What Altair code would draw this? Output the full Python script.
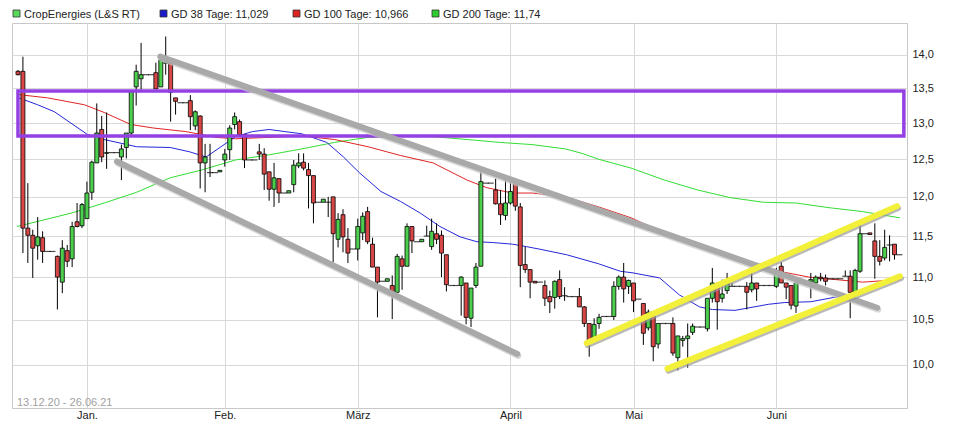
import altair as alt
import pandas as pd

# ---------------- data ----------------
opens = [13.75, 13.75, 11.60, 11.51, 11.38, 11.48, 11.31, 11.31, 11.25, 10.94,
         11.32, 11.22, 11.68, 11.63, 11.72, 12.06, 12.45, 12.91, 12.58, 12.59,
         12.59, 12.53, 12.66, 12.86, 13.52, 13.64, 13.70, 13.70, 13.73, 13.52,
         13.87, 13.88, 13.36, 13.29, 13.29, 13.32, 12.96, 13.10, 12.45, 12.32,
         12.32, 12.33, 12.49, 12.63, 12.98, 13.02, 12.84, 12.49, 12.49, 12.60,
         12.57, 12.33, 12.10, 12.24, 12.05, 12.05, 12.16, 12.41, 12.46, 12.36,
         12.28, 11.93, 11.93, 11.93, 12.00, 11.46, 11.77, 11.46, 11.34, 11.34,
         11.54, 11.81, 11.40, 11.12, 10.95, 10.95, 10.90, 10.82, 11.22, 11.13,
         11.62, 11.43, 11.43, 11.50, 11.37, 11.53, 11.51, 11.27, 10.90, 10.90,
         10.90, 10.93, 10.52, 10.90, 11.13, 12.18, 12.18, 12.09, 11.91, 11.76,
         11.92, 12.17, 11.87, 11.15, 11.09, 10.95, 10.94, 10.90, 10.77, 10.76,
         10.97, 10.78, 10.77, 10.77, 10.77, 10.65, 10.46, 10.27, 10.46, 10.54,
         10.54, 10.54, 10.89, 11.00, 10.89, 10.93, 10.74, 10.69, 10.41, 10.59,
         10.23, 10.46, 10.46, 10.46, 10.08, 10.27, 10.29, 10.36, 10.42, 10.42,
         10.40, 10.75, 10.88, 10.75, 10.84, 10.89, 10.89, 10.89, 10.89, 10.85,
         10.93, 10.90, 10.90, 10.90, 10.89, 11.13, 10.93, 10.90, 10.66, 10.93,
         10.93, 10.95, 10.93, 11.00, 10.99, 10.98, 10.98, 10.98, 11.01, 11.01,
         10.82, 11.07, 11.53, 11.54, 11.44, 11.25, 11.23, 11.39, 11.40, 11.27]
highs = [13.77, 13.97, 12.18, 11.58, 11.74, 11.56, 11.31, 11.31, 11.26, 11.45,
         11.39, 11.68, 11.92, 11.92, 12.20, 12.48, 13.28, 13.10, 13.15, 12.59,
         12.59, 12.70, 12.86, 13.45, 13.85, 14.18, 13.70, 13.70, 13.88, 14.00,
         14.28, 13.88, 13.36, 13.29, 13.29, 13.40, 13.18, 13.11, 12.71, 12.71,
         12.32, 12.35, 12.64, 12.97, 13.15, 13.05, 12.84, 12.49, 12.49, 12.71,
         12.65, 12.33, 12.45, 12.24, 12.05, 12.08, 12.49, 12.58, 12.58, 12.45,
         12.28, 11.93, 11.97, 12.00, 12.00, 11.79, 11.84, 11.60, 11.34, 11.72,
         11.80, 11.87, 11.48, 11.12, 10.95, 10.98, 11.02, 11.28, 11.26, 11.66,
         11.62, 11.43, 11.46, 11.63, 11.72, 11.66, 11.57, 11.27, 10.90, 10.90,
         11.01, 10.93, 10.87, 11.17, 12.34, 12.18, 12.18, 12.24, 12.09, 12.24,
         12.24, 12.20, 11.92, 11.37, 11.09, 10.95, 10.94, 10.96, 10.84, 10.96,
         11.08, 10.88, 10.77, 10.77, 10.87, 10.66, 10.46, 10.52, 10.57, 10.54,
         10.54, 10.95, 11.02, 11.17, 10.97, 10.93, 10.74, 10.69, 10.62, 10.59,
         10.46, 10.46, 10.46, 10.53, 10.32, 10.32, 10.46, 10.46, 10.42, 10.42,
         10.75, 11.11, 10.94, 10.97, 11.05, 10.93, 10.89, 10.89, 10.94, 11.05,
         10.93, 10.90, 10.90, 10.90, 11.11, 11.18, 10.93, 10.90, 10.93, 10.93,
         10.93, 11.05, 11.02, 11.05, 11.03, 10.98, 10.98, 10.98, 11.08, 11.08,
         11.10, 11.65, 11.53, 11.54, 11.66, 11.45, 11.58, 11.51, 11.40, 11.27]
lows = [13.69, 11.29, 11.17, 10.99, 11.21, 11.17, 11.31, 11.31, 10.62, 10.81,
        11.12, 11.12, 11.61, 11.60, 11.72, 11.96, 12.45, 12.46, 12.37, 12.59,
        12.59, 12.22, 12.51, 12.81, 13.25, 13.48, 13.70, 13.70, 13.49, 13.52,
        13.70, 13.02, 13.12, 13.29, 13.29, 12.90, 12.90, 12.11, 12.06, 12.26,
        12.32, 12.33, 12.40, 12.49, 12.91, 12.82, 12.38, 12.49, 12.49, 12.49,
        12.09, 11.95, 11.87, 11.92, 12.05, 12.05, 12.06, 12.38, 12.35, 11.85,
        11.66, 11.93, 11.93, 11.74, 11.18, 11.36, 11.30, 11.17, 11.34, 11.20,
        11.45, 11.40, 11.12, 10.53, 10.95, 10.95, 10.51, 10.82, 10.85, 11.13,
        11.29, 11.43, 11.43, 11.50, 11.33, 11.40, 11.00, 10.83, 10.90, 10.90,
        10.55, 10.45, 10.42, 10.87, 11.13, 12.18, 12.18, 11.90, 11.64, 11.70,
        11.90, 11.82, 10.88, 11.05, 10.75, 10.93, 10.94, 10.66, 10.58, 10.63,
        10.74, 10.72, 10.77, 10.77, 10.65, 10.42, 10.09, 10.24, 10.40, 10.54,
        10.54, 10.50, 10.85, 10.70, 10.80, 10.59, 10.74, 10.22, 10.38, 10.04,
        10.18, 10.46, 10.46, 10.10, 9.94, 10.20, 9.97, 10.33, 10.42, 10.42,
        10.37, 10.70, 10.39, 10.70, 10.80, 10.89, 10.89, 10.89, 10.62, 10.82,
        10.72, 10.90, 10.90, 10.90, 10.87, 10.93, 10.74, 10.62, 10.58, 10.93,
        10.93, 10.75, 10.90, 10.95, 10.90, 10.98, 10.98, 10.98, 11.01, 10.52,
        10.80, 11.05, 11.53, 11.52, 10.98, 11.14, 11.20, 11.19, 11.21, 11.27]
closes = [13.70, 11.60, 11.51, 11.35, 11.49, 11.31, 11.31, 11.31, 11.00, 11.35,
          11.19, 11.62, 11.62, 11.90, 12.05, 12.46, 12.86, 12.53, 12.59, 12.59,
          12.59, 12.64, 12.86, 13.45, 13.75, 13.70, 13.70, 13.70, 13.49, 13.92,
          13.89, 13.44, 13.31, 13.29, 13.29, 13.09, 13.16, 12.45, 12.53, 12.32,
          12.32, 12.35, 12.57, 12.93, 13.09, 12.84, 12.49, 12.49, 12.49, 12.57,
          12.30, 12.10, 12.25, 12.05, 12.05, 12.08, 12.42, 12.45, 12.38, 12.28,
          11.92, 11.93, 11.97, 11.93, 11.53, 11.71, 11.49, 11.29, 11.34, 11.62,
          11.75, 11.43, 11.12, 10.94, 10.95, 10.98, 10.82, 11.25, 11.13, 11.62,
          11.44, 11.43, 11.46, 11.50, 11.56, 11.46, 11.29, 10.91, 10.90, 10.90,
          11.00, 10.53, 10.87, 11.12, 12.20, 12.18, 12.18, 11.91, 11.77, 11.92,
          12.07, 11.88, 11.14, 11.09, 10.94, 10.93, 10.94, 10.75, 10.71, 10.95,
          10.77, 10.78, 10.77, 10.77, 10.65, 10.46, 10.25, 10.45, 10.53, 10.54,
          10.54, 10.89, 11.00, 10.86, 10.96, 10.72, 10.74, 10.35, 10.59, 10.20,
          10.46, 10.46, 10.46, 10.13, 10.32, 10.29, 10.32, 10.43, 10.42, 10.42,
          10.75, 10.93, 10.71, 10.80, 10.93, 10.89, 10.89, 10.89, 10.82, 10.93,
          10.86, 10.90, 10.90, 10.90, 11.05, 10.93, 10.88, 10.67, 10.93, 10.93,
          10.93, 10.97, 11.00, 10.98, 10.95, 10.98, 10.98, 10.98, 11.01, 10.82,
          11.08, 11.53, 11.53, 11.52, 11.25, 11.19, 11.36, 11.39, 11.27, 11.27]

# moving averages (bar index, value)
gd38_k = [-0.2, 4.0, 7.4, 14.1, 17.5, 24.1, 30.9, 34.9, 38.2, 41.0, 44.2, 47.6, 51.0,
          54.2, 57.6, 61.0, 62.7, 66.1, 69.3, 73.7, 77.7, 81.7, 85.7, 89.8, 93.2, 96.4,
          100.4, 103.2, 105.8, 111.4, 117.9, 122.3, 124.9, 130.3, 134.3, 138.4, 141.0,
          145.6, 152.4, 155.6, 161.0, 165.7, 168.5, 174.1, 179.1]
gd38_v = [13.37, 13.26, 13.16, 12.84, 12.77, 12.67, 12.66, 12.60, 12.53, 12.66, 12.81,
          12.88, 12.91, 12.88, 12.85, 12.77, 12.73, 12.53, 12.32, 12.07, 11.94, 11.79,
          11.62, 11.49, 11.43, 11.42, 11.40, 11.37, 11.34, 11.27, 11.16, 11.07, 11.05,
          10.99, 10.79, 10.65, 10.62, 10.61, 10.68, 10.70, 10.71, 10.76, 10.79, 10.91, 11.03]
gd100_k = [-0.2, 6.0, 13.5, 17.5, 22.9, 27.5, 34.1, 40.2, 44.2, 51.0, 57.6, 64.3, 71.1,
           77.7, 84.3, 91.2, 95.2, 100.4, 104.4, 111.2, 117.9, 124.5, 131.3, 138.0,
           144.6, 151.4, 155.4, 160.6, 166.1, 171.5, 179.1]
gd100_v = [13.41, 13.36, 13.26, 13.15, 12.98, 12.93, 12.88, 12.80, 12.78, 12.80, 12.82,
           12.77, 12.67, 12.55, 12.45, 12.22, 12.12, 12.05, 12.05, 12.00, 11.87, 11.73,
           11.54, 11.37, 11.23, 11.11, 11.06, 11.00, 10.97, 10.94, 10.97]
gd200_k = [-0.2, 10.8, 17.5, 24.1, 30.9, 37.6, 44.2, 51.0, 57.6, 64.3, 71.1, 77.7, 84.3,
           91.2, 97.8, 104.4, 111.2, 114.5, 117.9, 124.5, 131.3, 138.0, 144.6, 151.4,
           158.0, 164.7, 171.5, 179.1]
gd200_v = [11.62, 11.79, 11.92, 12.06, 12.25, 12.36, 12.49, 12.56, 12.64, 12.73, 12.80,
           12.81, 12.81, 12.77, 12.73, 12.70, 12.64, 12.58, 12.50, 12.38, 12.22, 12.09,
           11.99, 11.93, 11.92, 11.86, 11.81, 11.73]

# drawn trend lines: (start index, start value, end index, end value)
gray_lines = [(28.9, 13.97, 174.5, 10.64), (20.1, 12.47, 101.4, 10.12)]
yellow_lines = [(115.5, 10.24, 178.5, 11.88), (131.9, 9.96, 179.1, 11.01)]
zone_k = [0.0, 179.9]
zone_v = [12.82, 13.46]

month_ticks = [14, 42, 69, 100, 125, 154]
month_labels = ["Jan.", "Feb.", "März", "April", "Mai", "Juni"]
y_ticks = [10.0, 10.5, 11.0, 11.5, 12.0, 12.5, 13.0, 13.5, 14.0]

legend_labels = ["CropEnergies (L&S RT)", "GD 38 Tage: 11,029",
                 "GD 100 Tage: 10,966", "GD 200 Tage: 11,74"]
date_range = "13.12.20 - 26.06.21"

# ---------------- styles ----------------
GREEN = "#4ccf4c"
RED = "#d94646"
FONT = "Liberation Sans"
GRID = "#d9d9d9"

df = pd.DataFrame({"k": list(range(len(opens))), "open": opens, "high": highs,
                   "low": lows, "close": closes})

x_scale = alt.Scale(domain=[-0.2, 179.52], nice=False, zero=False)
y_scale = alt.Scale(type="log", domain=[9.544, 14.49], nice=False, zero=False)

expr = " : ".join(f"datum.value == {t} ? '{l}'" for t, l in zip(month_ticks, month_labels)) + " : ''"


def X(field):
    return alt.X(field, type="quantitative", scale=x_scale, title=None,
                 axis=alt.Axis(values=month_ticks, labelExpr=expr, grid=True, gridColor=GRID,
                               domain=False, ticks=False, labelPadding=1, labelFontSize=11,
                               labelFont=FONT, labelColor="#222222", labelFlush=False))


def Y(field):
    return alt.Y(field, type="quantitative", scale=y_scale, title=None,
                 axis=alt.Axis(orient="right", values=y_ticks,
                               labelExpr="replace(format(datum.value, '.1f'), '.', ',')",
                               grid=True, gridColor=GRID, domain=False, ticks=False,
                               labelPadding=5, labelFontSize=11, labelFont=FONT,
                               labelColor="#222222"))


def series(ks, vs):
    return pd.DataFrame({"k": ks, "v": vs})


ma_layers = []
for ks, vs, col in [(gd200_k, gd200_v, "#33dd33"), (gd100_k, gd100_v, "#e02424"),
                    (gd38_k, gd38_v, "#2626d9")]:
    ma_layers.append(alt.Chart(series(ks, vs)).mark_line(color=col, strokeWidth=1)
                     .encode(x=X("k"), y=Y("v")))

base = alt.Chart(df)
wicks = base.mark_rule(color="black", strokeWidth=1).encode(x=X("k"), y=Y("low"), y2="high")
bodies = base.transform_filter("datum.open != datum.close").mark_bar(
    size=4, stroke="black", strokeWidth=0.8).encode(
    x=X("k"), y=Y("open"), y2="close",
    fill=alt.condition("datum.close > datum.open", alt.value(GREEN), alt.value(RED)))
dojis = base.transform_filter("datum.open == datum.close").mark_tick(
    orient="horizontal", size=6, thickness=1.2, color="black").encode(x=X("k"), y=Y("close"))

zone = alt.Chart(pd.DataFrame({"k0": [zone_k[0]], "k1": [zone_k[1]],
                               "v0": [zone_v[0]], "v1": [zone_v[1]]})).mark_rect(
    fillOpacity=0, stroke="#9440e3", strokeWidth=3.5).encode(
    x=X("k0"), x2="k1", y=Y("v0"), y2="v1")

trend_layers = []
for lines, col, shadow in [(gray_lines, "#a9a9a9", "#c8c8c8"), (yellow_lines, "#f3f03a", "#9a9a9a")]:
    for (k0, v0, k1, v1) in lines:
        d = series([k0, k1], [v0, v1])
        trend_layers.append(alt.Chart(d).mark_line(color=shadow, strokeWidth=6, strokeCap="round",
                                                   opacity=0.7, yOffset=2, xOffset=1)
                            .encode(x=X("k"), y=Y("v")))
        trend_layers.append(alt.Chart(d).mark_line(color=col, strokeWidth=6, strokeCap="round")
                            .encode(x=X("k"), y=Y("v")))

one = pd.DataFrame({"a": [0]})
legend_layers = []
legend_cols = ["#5ad85a", "#1a1acc", "#dd2222", "#2fcc2f"]
legend_x = [1, 148, 281, 420]
for lab, col, lx in zip(legend_labels, legend_cols, legend_x):
    legend_layers.append(alt.Chart(one).mark_rect(fill=col, stroke="#333333", strokeWidth=0.8).encode(
        x=alt.value(lx), x2=alt.value(lx + 7), y=alt.value(-13), y2=alt.value(-6)))
    legend_layers.append(alt.Chart(one).mark_text(
        text=lab, align="left", baseline="alphabetic", font=FONT, fontSize=11, color="#222222").encode(
        x=alt.value(lx + 11), y=alt.value(-5.5)))

date_text = alt.Chart(one).mark_text(text=date_range, align="left", baseline="alphabetic",
                                     font=FONT, fontSize=11, color="#a0a0a0").encode(
    x=alt.value(5), y=alt.value(383))

chart = alt.layer(*ma_layers, wicks, bodies, dojis, zone, *trend_layers, *legend_layers,
                  date_text).properties(
    width=895, height=385,
    autosize=alt.AutoSizeParams(type="none"),
    padding={"left": 4, "top": 15, "right": 38, "bottom": 13},
    background="white",
).configure_view(stroke="#c8c8c8", strokeWidth=1)

chart.save("out.html", embed_options={"renderer": "svg", "actions": False})
